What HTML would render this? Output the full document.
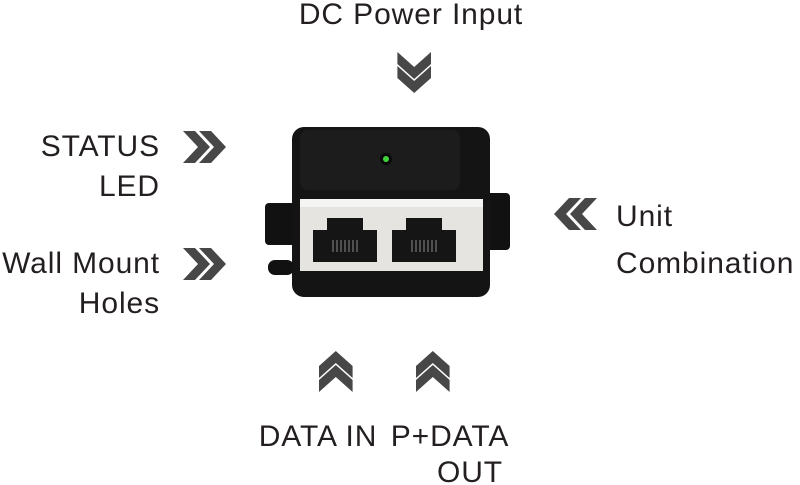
<!DOCTYPE html>
<html><head><meta charset="utf-8"><style>
html,body{margin:0;padding:0;background:#fff;}
svg{display:block;}
text{font-family:"Liberation Sans",Arial,sans-serif;font-size:30px;letter-spacing:0.9px;fill:#231f20;}
</style></head><body>
<svg width="800" height="485" viewBox="0 0 800 485" xmlns="http://www.w3.org/2000/svg">
<defs>
<polygon id="chev" points="0,0 12,0 27,16 12,32 0,32 15,16" fill="#474747"/>
</defs>
<text x="411" y="24" text-anchor="middle">DC Power Input</text>
<text x="160" y="156" text-anchor="end">STATUS</text>
<text x="160" y="196" text-anchor="end">LED</text>
<text x="160" y="273" text-anchor="end">Wall Mount</text>
<text x="160" y="313" text-anchor="end">Holes</text>
<text x="616" y="226">Unit</text>
<text x="616" y="273">Combination</text>
<text x="318" y="446" text-anchor="middle">DATA IN</text>
<text x="450" y="446" text-anchor="middle">P+DATA</text>
<text x="470" y="482" text-anchor="middle">OUT</text>
<g transform="translate(183,131)"><use href="#chev"/><use href="#chev" x="16"/></g>
<g transform="translate(183,248)"><use href="#chev"/><use href="#chev" x="16"/></g>
<g transform="translate(597,198) scale(-1,1)"><use href="#chev"/><use href="#chev" x="16"/></g>
<g transform="translate(431,52) rotate(90) scale(1,1.05)"><use href="#chev"/><use href="#chev" x="14"/></g>
<g transform="translate(319,392) rotate(-90) scale(1,1.05)"><use href="#chev"/><use href="#chev" x="14"/></g>
<g transform="translate(416,392) rotate(-90) scale(1,1.05)"><use href="#chev"/><use href="#chev" x="14"/></g>
<rect x="265" y="203" width="30" height="42" rx="4" fill="#111"/>
<rect x="268" y="260" width="26" height="15" rx="7" fill="#111"/>
<rect x="480" y="193" width="30" height="57" rx="4" fill="#111"/>
<rect x="292" y="127" width="198" height="170" rx="12" fill="#141414"/>
<rect x="300" y="130" width="160" height="60" rx="8" fill="#1c1c1c"/>
<circle cx="386" cy="159" r="6" fill="#0a0a0a"/>
<circle cx="386" cy="159" r="3" fill="#3fd43a"/>
<rect x="300" y="199" width="183" height="72" fill="#e6e4e0"/>
<rect x="300" y="199" width="183" height="8" fill="#f4f4f2"/>
<path d="M313 242 L313 230 L327 230 L327 218 L363 218 L363 230 L377 230 L377 262 L313 262 Z" fill="#151515"/>
<path d="M392 242 L392 230 L406 230 L406 218 L442 218 L442 230 L456 230 L456 262 L392 262 Z" fill="#151515"/>
<g stroke="#8a8a8a" stroke-width="1">
<path d="M333 240v12M337 240v12M341 240v12M345 240v12M349 240v12M353 240v12M357 240v12"/>
<path d="M412 240v12M416 240v12M420 240v12M424 240v12M428 240v12M432 240v12M436 240v12"/>
</g>
</svg>
</body></html>
